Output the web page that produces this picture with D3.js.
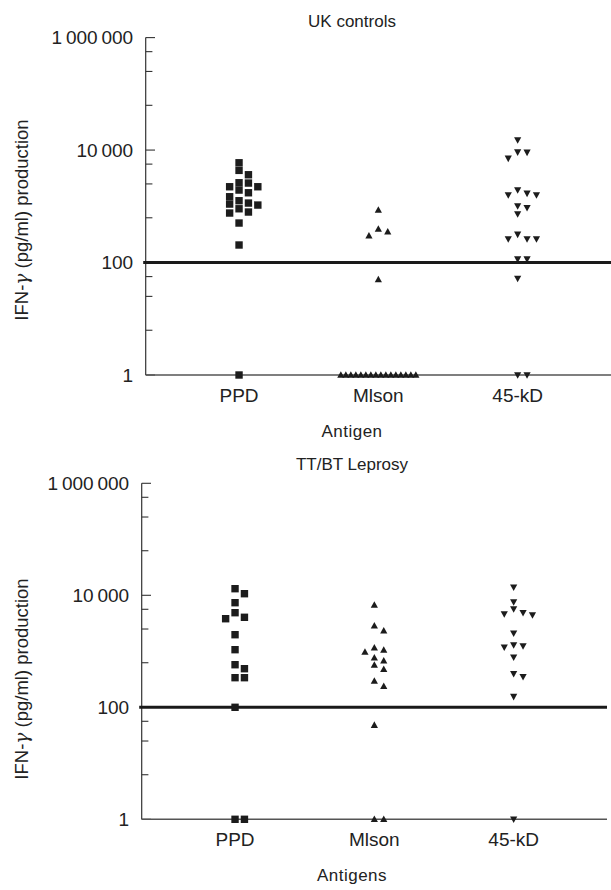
<!DOCTYPE html>
<html><head><meta charset="utf-8">
<script src="https://cdn.jsdelivr.net/npm/d3@7"></script>
<style>body{margin:0;background:#fff}svg{display:block}text{font-family:"Liberation Sans",Arial,Helvetica,sans-serif;fill:#222}</style>
</head><body><svg id="c" width="611" height="890"></svg>
<script>
const categories = ["PPD", "Mlson", "45-kD"];
const panelTitles = ["UK controls", "TT/BT Leprosy"];
const xTitles = ["Antigen", "Antigens"];
const yTitle = "(pg/ml) production";
const majorTicks = [1, 100, 10000, 1000000];
const majorTickLabels = ["1", "100", "10\u2009000", "1\u2009000\u2009000"];
const minorTicks = [6.25, 25, 56.25, 625, 2500, 5625, 62500, 250000, 562500];
const cutoff = 100;

// UK controls
const ukPPD = [5943, 4355, 3640, 2227, 2590, 1945, 2623, 2227, 1741, 1479, 1142, 1052, 759, 904, 1096, 791, 1256, 504, 205, 1];
const ukMlson = [858, 394, 299, 353, 50, 1, 1, 1, 1, 1, 1, 1, 1, 1, 1, 1, 1, 1, 1, 1, 1];
const uk45kD = [15060, 9210, 7115, 9100, 1945, 1585, 1585, 1698, 1010, 728, 943, 317, 262, 262, 262, 115, 115, 52, 1, 1];
// TT/BT leprosy
const lepPPD = [13120, 10680, 7380, 4890, 3818, 4048, 1978, 1069, 576, 489, 338, 338, 100, 1, 1];
const lepMlson = [6714, 2866, 2334, 1055, 971, 1159, 769, 679, 569, 477, 237, 295, 48, 1, 1];
const lep45kD = [13900, 7590, 4890, 4449, 4635, 5690, 2096, 1178, 1244, 1296, 781, 352, 398, 155, 1];

const panels = [
  {title: panelTitles[0], xTitle: xTitles[0], series: [ukPPD, ukMlson, uk45kD],
   x0: 145.7, x1: 611, yTop: 37.6, yBot: 375, titleY: 27, yTitleY: 220},
  {title: panelTitles[1], xTitle: xTitles[1], series: [lepPPD, lepMlson, lep45kD],
   x0: 141.7, x1: 607, yTop: 483.3, yBot: 819.3, titleY: 470, yTitleY: 679}
];
const shapes = ["square", "up", "down"];

const svg = d3.select("#c");

function markerPath(type) {
  const p = d3.path();
  if (type === "square") { const s = 3.7; p.rect(-s, -s, 2*s, 2*s); }
  else if (type === "up") { p.moveTo(0, -3.8); p.lineTo(3.6, 2.8); p.lineTo(-3.6, 2.8); p.closePath(); }
  else { p.moveTo(0, 3.8); p.lineTo(3.6, -2.8); p.lineTo(-3.6, -2.8); p.closePath(); }
  return p.toString();
}

function swarm(values, y, step, thr, maxHalf) {
  const pts = values.map(v => ({v, y: y(v), dx: 0}));
  const counts = d3.rollup(values, g => g.length, d => d);
  const order = [0, 1, -1, 2, -2, 3, -3, 4, -4, 5, -5];
  const placed = [];
  // large tie groups spread evenly
  counts.forEach((n, v) => {
    if (n >= 6) {
      const g = pts.filter(p => p.v === v);
      const sp = Math.min(step, 2 * maxHalf / (n - 1));
      g.forEach((p, i) => { p.dx = (i - (n - 1) / 2) * sp; p.done = true; });
    }
  });
  pts.filter(p => !p.done).sort((a, b) => a.y - b.y).forEach(p => {
    for (const s of order) {
      const hit = placed.some(q => q.s === s && Math.abs(q.y - p.y) < thr);
      if (!hit) { p.s = s; p.dx = s * step; placed.push(p); break; }
    }
  });
  return pts;
}

panels.forEach(P => {
  const g = svg.append("g");
  const x = d3.scalePoint().domain(categories).range([P.x0, P.x1]).padding(0.67);
  const y = d3.scaleLog().domain([1, 1000000]).range([P.yBot, P.yTop]);

  // minor ticks
  g.selectAll(".mt").data(minorTicks).join("line")
    .attr("x1", P.x0).attr("x2", P.x0 + 6.7)
    .attr("y1", d => y(d)).attr("y2", d => y(d))
    .attr("stroke", "#333").attr("stroke-width", 1.1);
  // major ticks
  g.selectAll(".Mt").data(majorTicks).join("line")
    .attr("x1", P.x0).attr("x2", P.x0 + 9.3)
    .attr("y1", d => y(d)).attr("y2", d => y(d))
    .attr("stroke", "#333").attr("stroke-width", 1.1);
  // y axis line
  g.append("line").attr("x1", P.x0).attr("x2", P.x0)
    .attr("y1", y(1000000)).attr("y2", y(1))
    .attr("stroke", "#333").attr("stroke-width", 1.2);
  // baseline
  g.append("line").attr("x1", P.x0).attr("x2", P.x1)
    .attr("y1", y(1)).attr("y2", y(1))
    .attr("stroke", "#555").attr("stroke-width", 1.4);
  // cutoff line
  g.append("line").attr("x1", P.x0 - 2.5).attr("x2", P.x1)
    .attr("y1", y(cutoff)).attr("y2", y(cutoff))
    .attr("stroke", "#1a1a1a").attr("stroke-width", 3);

  // y tick labels
  g.selectAll(".yl").data(majorTicks).join("text")
    .attr("x", P.x0 - 12.5).attr("y", d => y(d) + 6.8)
    .attr("text-anchor", "end").attr("font-size", 19)
    .text((d, i) => majorTickLabels[i]);
  // x tick labels
  g.selectAll(".xl").data(categories).join("text")
    .attr("x", d => x(d)).attr("y", P.yBot + 26.5)
    .attr("text-anchor", "middle").attr("font-size", 19)
    .text(d => d);
  // titles
  g.append("text").attr("x", 352).attr("y", P.titleY)
    .attr("text-anchor", "middle").attr("font-size", 17).text(P.title);
  g.append("text").attr("x", 352).attr("y", P.yBot + 62)
    .attr("text-anchor", "middle").attr("font-size", 17).attr("letter-spacing", 0.5).text(P.xTitle);
  const yt = g.append("text").attr("transform", `translate(28,${P.yTitleY}) rotate(-90)`)
    .attr("text-anchor", "middle").attr("font-size", 18.5);
  yt.append("tspan").text("IFN-");
  yt.append("tspan").attr("font-style", "italic").attr("font-family", "DejaVu Serif, serif").text("\u03B3");
  yt.append("tspan").text(" " + yTitle);

  // points
  P.series.forEach((vals, i) => {
    const pts = swarm(vals, y, 9.4, 7, 37.5);
    g.selectAll(".p" + i).data(pts).join("path")
      .attr("d", markerPath(shapes[i]))
      .attr("transform", d => `translate(${x(categories[i]) + d.dx},${d.y})`)
      .attr("fill", "#1c1c1c");
  });
});
</script></body></html>
